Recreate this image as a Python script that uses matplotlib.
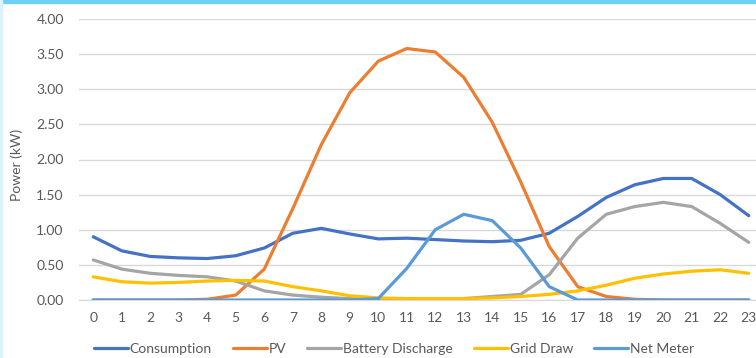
import numpy as np
import matplotlib
matplotlib.use('Agg')
import matplotlib.pyplot as plt
from matplotlib.patches import Rectangle

# ------------------------------------------------------------------
# Perfil horário de potência (kW)
# ------------------------------------------------------------------
horas = list(range(24))

consumo = [0.90, 0.70, 0.62, 0.60, 0.59, 0.63, 0.74, 0.95, 1.02, 0.94,
           0.87, 0.88, 0.86, 0.84, 0.83, 0.85, 0.95, 1.19, 1.46, 1.64,
           1.73, 1.73, 1.50, 1.20]
pv = [0.00, 0.00, 0.00, 0.00, 0.01, 0.07, 0.44, 1.30, 2.21, 2.95,
      3.40, 3.58, 3.53, 3.17, 2.53, 1.68, 0.76, 0.19, 0.05, 0.01,
      0.00, 0.00, 0.00, 0.00]
bateria = [0.57, 0.44, 0.38, 0.35, 0.33, 0.27, 0.13, 0.07, 0.04, 0.02,
           0.01, 0.01, 0.01, 0.02, 0.05, 0.08, 0.36, 0.88, 1.22, 1.33,
           1.39, 1.33, 1.09, 0.82]
rede = [0.33, 0.26, 0.24, 0.25, 0.27, 0.28, 0.27, 0.19, 0.13, 0.06,
        0.03, 0.02, 0.02, 0.02, 0.03, 0.05, 0.08, 0.13, 0.21, 0.31,
        0.37, 0.41, 0.43, 0.38]
net_meter = [0.00, 0.00, 0.00, 0.00, 0.00, 0.00, 0.00, 0.00, 0.00, 0.00,
             0.02, 0.45, 1.00, 1.22, 1.13, 0.74, 0.19, 0.00, 0.00, 0.00,
             0.00, 0.00, 0.00, 0.00]

series = [
    ('Consumption', consumo, '#4472C4'),
    ('PV', pv, '#ED7D31'),
    ('Battery Discharge', bateria, '#A5A5A5'),
    ('Grid Draw', rede, '#FFC000'),
    ('Net Meter', net_meter, '#5B9BD5'),
]

COR_TEXTO = '#595959'
plt.rcParams['font.family'] = ['Lato', 'DejaVu Sans']

fig = plt.figure(figsize=(7.56, 3.58), dpi=100)
ax = fig.add_axes([79 / 756, 58 / 358, 684 / 756, 281 / 358])

for nome, vals, cor in series:
    ax.plot(horas, vals, color=cor, lw=2.3, label=nome,
            solid_capstyle='round', solid_joinstyle='round', zorder=3)

ax.set_xlim(-0.5, 23.5)
ax.set_ylim(0, 4)
ax.set_xticks(horas)
ax.set_yticks(np.arange(0, 4.01, 0.5))
ax.set_yticklabels([f'{v:.2f}' for v in np.arange(0, 4.01, 0.5)])
ax.grid(axis='y', color='#D9D9D9', lw=1)
ax.set_axisbelow(True)
for s in ['top', 'right', 'left']:
    ax.spines[s].set_visible(False)
ax.spines['bottom'].set_color('#D9D9D9')
ax.tick_params(length=0, labelsize=10, colors=COR_TEXTO)
ax.tick_params(axis='y', pad=11)
ax.tick_params(axis='x', pad=9)
ax.set_ylabel('Power (kW)', fontsize=10, color=COR_TEXTO)
ax.yaxis.set_label_coords(-56 / 684, 0.48)

fig.legend(loc='center', bbox_to_anchor=(394 / 756, 1 - 349 / 358), ncol=5,
           frameon=False, fontsize=10, handlelength=2.45, handletextpad=0.15,
           columnspacing=1.5, labelcolor=COR_TEXTO)

# moldura azul clara
fig.patches.append(Rectangle((0, 1 - 3 / 358), 1, 3 / 358, transform=fig.transFigure,
                             color='#6DD0F7', zorder=10))
fig.patches.append(Rectangle((0, 0), 1.5 / 756, 1, transform=fig.transFigure,
                             color='#DDF3FC', zorder=10))

fig.savefig('out.png', dpi=100)
